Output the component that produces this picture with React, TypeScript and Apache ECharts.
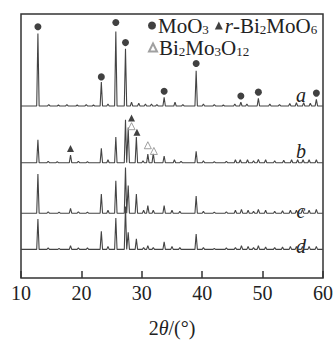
import React, { useEffect, useRef } from "react";
import * as echarts from "echarts";

// 2θ range and tick labels
const X_MIN = 10;
const X_MAX = 60;
const X_TICKS = [10, 20, 30, 40, 50, 60];

// vertical offsets (baseline) of each pattern, in plot units
const baseA = 180.5;
const baseB = 121;
const baseC = 68;
const baseD = 30;

// peaks: [2θ, intensity above baseline]
const peaksA: [number, number][] = [
  [12.8, 76], [14.6, 1.5], [16.2, 1], [17.6, 1.5], [19.3, 1], [20.8, 1.5], [22.0, 1],
  [23.3, 25], [24.4, 2], [25.7, 78], [27.3, 60], [28.3, 4], [29.5, 3], [30.6, 2],
  [31.6, 2], [32.5, 1.5], [33.7, 9], [35.5, 4], [36.8, 1.5], [39.0, 37], [40.2, 2],
  [42.0, 1.5], [43.5, 1], [45.4, 2], [46.4, 4], [47.4, 2], [49.3, 8], [51.2, 2],
  [52.8, 1.5], [54.5, 2.5], [55.6, 3.5], [56.8, 3.5], [57.9, 3], [58.9, 7],
];
const peaksB: [number, number][] = [
  [12.8, 24], [14.5, 1.5], [16.0, 1], [18.2, 8], [19.5, 1.5], [21.0, 1], [23.3, 15],
  [24.4, 3], [25.7, 27], [27.3, 45], [27.75, 37], [29.1, 27], [30.2, 2], [31.0, 9],
  [31.9, 10], [33.7, 7], [35.4, 3], [36.5, 1.5], [39.0, 12], [40.2, 2], [42.0, 1],
  [44.0, 1.5], [45.5, 3], [46.3, 3], [47.5, 3], [48.5, 2], [49.3, 3.5], [50.5, 3],
  [52.0, 2], [53.5, 2.5], [54.8, 3], [55.8, 3], [56.7, 3], [57.7, 3], [58.9, 3],
];
const peaksC: [number, number][] = [
  [12.8, 41], [14.5, 1.5], [16.3, 1], [18.2, 5], [19.5, 1.5], [21.0, 1], [23.3, 20],
  [24.4, 3], [25.7, 34], [27.3, 48], [27.75, 29], [29.1, 20], [30.3, 3], [31.0, 8],
  [31.9, 3], [33.7, 8], [35.0, 3], [36.3, 2], [39.0, 18], [40.2, 2], [42.0, 1],
  [44.0, 1.5], [45.5, 3], [46.5, 4], [47.6, 3], [48.5, 2], [49.3, 4], [50.5, 3],
  [52.0, 2], [53.3, 2.5], [54.6, 3], [55.6, 3], [56.6, 4], [57.7, 3], [58.9, 4],
];
const peaksD: [number, number][] = [
  [12.8, 32], [14.5, 1.5], [16.3, 1], [18.2, 4], [19.5, 1.5], [21.0, 1.5], [23.3, 19],
  [24.4, 3], [25.7, 33], [27.3, 45], [27.75, 18], [29.1, 11], [30.3, 2], [31.0, 4],
  [31.9, 2], [33.7, 8], [35.0, 3], [36.3, 2], [39.0, 16], [40.2, 2], [42.0, 1],
  [44.0, 1.5], [45.5, 2], [46.5, 4], [47.6, 3], [48.5, 2], [49.3, 4], [50.5, 2.5],
  [52.0, 2], [53.3, 2.5], [54.6, 3], [55.6, 3], [56.6, 3], [57.7, 3], [58.9, 3],
];

// phase markers [2θ, plot y]
const moo3Marks: [number, number][] = [
  [12.8, 263.7], [23.3, 211], [25.7, 268], [27.3, 247], [33.7, 196],
  [39.0, 225], [46.4, 191], [49.3, 195], [58.9, 194],
];
const bi2moo6Marks: [number, number][] = [[18.2, 136], [28.3, 168], [29.2, 153]];
const bi2mo3o12Marks: [number, number][] = [[28.3, 159.3], [31.0, 139.3], [32.0, 133.3]];

const LABELS = ["a", "b", "c", "d"];

const HALF_WIDTH = 0.2;

function trace(base: number, peaks: [number, number][]): [number, number][] {
  const pts: [number, number][] = [[X_MIN, base]];
  [...peaks].sort((p, q) => p[0] - q[0]).forEach(([p, h]) => {
    pts.push([p - HALF_WIDTH, base], [p, base + h], [p + HALF_WIDTH, base]);
  });
  pts.push([X_MAX, base]);
  return pts;
}

const FONT = "Liberation Serif";

const richMain = { fontSize: 21, fontFamily: FONT, color: "#222", lineHeight: 20 };
const richSub = { fontSize: 13, fontFamily: FONT, color: "#222", lineHeight: 20, verticalAlign: "bottom" as const };
const richItal = { ...richMain, fontStyle: "italic" as const };

const legendFormat: Record<string, string> = {
  "MoO3": "{m|MoO}{s|3}",
  "r-Bi2MoO6": "{i|r}{m|-Bi}{s|2}{m|MoO}{s|6}",
  "Bi2Mo3O12": "{m|Bi}{s|2}{m|Mo}{s|3}{m|O}{s|12}",
};

export default function App() {
  const ref = useRef<HTMLDivElement>(null);
  useEffect(() => {
    if (!ref.current) return;
    const chart = echarts.init(ref.current, null, { renderer: "svg" });
    const lineStyle = { color: "#444", width: 1.1 };
    const lineSeries = [
      trace(baseA, peaksA),
      trace(baseB, peaksB),
      trace(baseC, peaksC),
      trace(baseD, peaksD),
    ].map((data, i) => ({
      type: "line" as const,
      name: "pattern " + LABELS[i],
      data,
      showSymbol: false,
      symbol: "none",
      lineStyle,
      silent: true,
      z: 2,
    }));
    const legendCommon = {
      itemWidth: 8,
      itemHeight: 8,
      itemGap: 6,
      padding: 0,
      textStyle: { rich: { m: richMain, s: richSub, i: richItal }, padding: [0, 0, 0, -3] },
      formatter: (name: string) => legendFormat[name] || name,
      selectedMode: false,
    };
    chart.setOption({
      animation: false,
      backgroundColor: "#fff",
      grid: {
        left: 21,
        right: 10,
        top: 14,
        bottom: 52,
        show: true,
        borderColor: "#333",
        borderWidth: 1.5,
        backgroundColor: "transparent",
      },
      xAxis: {
        type: "value",
        min: X_MIN,
        max: X_MAX,
        interval: 10,
        axisLine: { show: false },
        axisTick: { show: true, inside: true, length: 7, lineStyle: { color: "#333", width: 1.5 } },
        axisLabel: {
          fontSize: 20,
          fontFamily: FONT,
          color: "#222",
          margin: 5,
          formatter: (v: number) => (X_TICKS.includes(v) ? String(v) : ""),
        },
        splitLine: { show: false },
        name: "{n|2}{t|θ}{n|/(°)}",
        nameLocation: "middle",
        nameGap: 40,
        nameTextStyle: {
          rich: {
            n: { fontSize: 20, fontFamily: FONT, color: "#222" },
            t: { fontSize: 20, fontFamily: FONT, color: "#222", fontStyle: "italic" },
          },
        },
      },
      yAxis: { type: "value", min: 0, max: 277, show: false },
      legend: [
        { ...legendCommon, data: ["MoO3", "r-Bi2MoO6"], left: 148, top: 15 },
        { ...legendCommon, data: ["Bi2Mo3O12"], left: 148, top: 37 },
      ],
      series: [
        ...lineSeries,
        {
          type: "scatter",
          name: "MoO3",
          data: moo3Marks,
          symbol: "circle",
          symbolSize: 7,
          itemStyle: { color: "#111" },
          z: 3,
        },
        {
          type: "scatter",
          name: "r-Bi2MoO6",
          data: bi2moo6Marks,
          symbol: "triangle",
          symbolSize: 7,
          itemStyle: { color: "#111" },
          z: 3,
        },
        {
          type: "scatter",
          name: "Bi2Mo3O12",
          data: bi2mo3o12Marks,
          symbol: "triangle",
          symbolSize: 7,
          itemStyle: { color: "#fff", borderColor: "#888", borderWidth: 1 },
          z: 3,
        },
      ],
      graphic: [
        { type: "text", x: 301, y: 95, style: { text: LABELS[0], font: "italic 20px " + FONT, fill: "#222", align: "center", verticalAlign: "middle" } },
        { type: "text", x: 301, y: 151, style: { text: LABELS[1], font: "italic 20px " + FONT, fill: "#222", align: "center", verticalAlign: "middle" } },
        { type: "text", x: 301, y: 211, style: { text: LABELS[2], font: "italic 20px " + FONT, fill: "#222", align: "center", verticalAlign: "middle" } },
        { type: "text", x: 301, y: 246, style: { text: LABELS[3], font: "italic 20px " + FONT, fill: "#222", align: "center", verticalAlign: "middle" } },
      ],
    });
    return () => chart.dispose();
  }, []);
  return (
    <div
      ref={ref}
      style={{ position: "fixed", left: 0, top: 0, width: 336, height: 343 }}
    />
  );
}
